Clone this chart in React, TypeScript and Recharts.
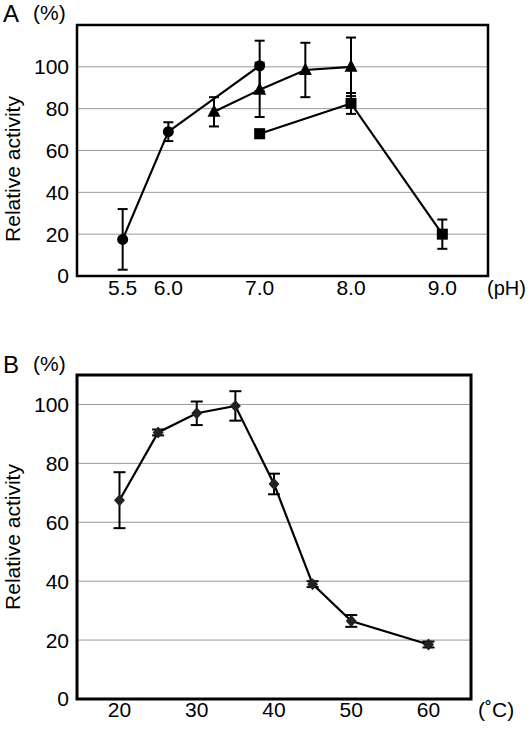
import React from "react";
import {
  ComposedChart,
  Line,
  XAxis,
  YAxis,
  CartesianGrid,
  ErrorBar,
  ReferenceArea,
} from "recharts";

const FONT = "'Liberation Sans', Arial, Helvetica, sans-serif";

// panel A: pH profile, three buffer series
const phCircleX = [5.5, 6.0, 7.0];
const phCircleY = [17.5, 69, 100.5];
const phCircleErr = [14.5, 4.5, 12];

const phTriangleX = [6.5, 7.0, 7.5, 8.0];
const phTriangleY = [78.5, 89, 98.5, 100];
const phTriangleErr = [7, 13, 13, 14];

const phSquareX = [7.0, 8.0, 9.0];
const phSquareY = [68, 82.5, 20];
const phSquareErr = [2, 5, 7];

const phTicks = [5.5, 6.0, 7.0, 8.0, 9.0];

// panel B: temperature profile
const tempX = [20, 25, 30, 35, 40, 45, 50, 60];
const tempY = [67.5, 90.5, 97, 99.5, 73, 39, 26.5, 18.5];
const tempErr = [9.5, 1, 4, 5, 3.5, 1, 2, 1];

const tempTicks = [20, 30, 40, 50, 60];
const activityTicks = [0, 20, 40, 60, 80, 100];

const toRows = (xs: number[], ys: number[], es: number[]) =>
  xs.map((x, i) => ({ x, y: ys[i], e: es[i] }));

const circleData = toRows(phCircleX, phCircleY, phCircleErr);
const triangleData = toRows(phTriangleX, phTriangleY, phTriangleErr);
const squareData = toRows(phSquareX, phSquareY, phSquareErr);
const tempData = toRows(tempX, tempY, tempErr);

const circleDot = (p: any) => (
  <circle key={`c-${p.index}`} cx={p.cx} cy={p.cy} r={5.5} fill="#000" />
);
const triangleDot = (p: any) => (
  <path
    key={`t-${p.index}`}
    d={`M${p.cx},${p.cy - 7.5} L${p.cx + 6.5},${p.cy + 5} L${p.cx - 6.5},${p.cy + 5} Z`}
    fill="#000"
  />
);
const squareDot = (p: any) => (
  <rect key={`s-${p.index}`} x={p.cx - 5.5} y={p.cy - 5.5} width={11} height={11} fill="#000" />
);
const diamondDot = (p: any) => (
  <path
    key={`d-${p.index}`}
    d={`M${p.cx},${p.cy - 6} L${p.cx + 5.5},${p.cy} L${p.cx},${p.cy + 6} L${p.cx - 5.5},${p.cy} Z`}
    fill="#222"
  />
);

const tickStyle = { fill: "#000", fontSize: 21, fontFamily: FONT };

export default function App() {
  return (
    <div
      style={{
        position: "absolute",
        left: 0,
        top: 0,
        width: 531,
        height: 730,
        background: "#fff",
        fontFamily: FONT,
      }}
    >
      <div style={{ position: "absolute", left: 0, top: 0 }}>
        <ComposedChart width={531} height={300} margin={{ top: 25, right: 43, bottom: 0, left: 0 }}>
          <CartesianGrid horizontal vertical={false} stroke="#999" strokeWidth={1} />
          <XAxis
            type="number"
            dataKey="x"
            domain={[5, 9.5]}
            ticks={phTicks}
            tickFormatter={(v: number) => v.toFixed(1)}
            axisLine={false}
            tickLine={false}
            tickSize={0}
            tickMargin={4}
            height={24}
            tick={tickStyle}
          />
          <YAxis
            type="number"
            domain={[0, 120]}
            ticks={activityTicks}
            axisLine={false}
            tickLine={false}
            tickSize={0}
            tickMargin={8}
            width={77}
            tick={tickStyle}
          />
          <ReferenceArea x1={5} x2={9.5} y1={0} y2={120} fill="none" stroke="#000" strokeWidth={2.5} />
          <Line data={circleData} dataKey="y" stroke="#000" strokeWidth={2.2} dot={circleDot} activeDot={false} isAnimationActive={false}>
            <ErrorBar dataKey="e" direction="y" width={5} stroke="#000" strokeWidth={2} />
          </Line>
          <Line data={triangleData} dataKey="y" stroke="#000" strokeWidth={2.2} dot={triangleDot} activeDot={false} isAnimationActive={false}>
            <ErrorBar dataKey="e" direction="y" width={5} stroke="#000" strokeWidth={2} />
          </Line>
          <Line data={squareData} dataKey="y" stroke="#000" strokeWidth={2.2} dot={squareDot} activeDot={false} isAnimationActive={false}>
            <ErrorBar dataKey="e" direction="y" width={5} stroke="#000" strokeWidth={2} />
          </Line>
        </ComposedChart>
      </div>

      <div style={{ position: "absolute", left: 0, top: 340 }}>
        <ComposedChart width={531} height={390} margin={{ top: 35, right: 60, bottom: 0, left: 0 }}>
          <CartesianGrid horizontal vertical={false} stroke="#999" strokeWidth={1} />
          <XAxis
            type="number"
            dataKey="x"
            domain={[14.5, 65.5]}
            ticks={tempTicks}
            axisLine={false}
            tickLine={false}
            tickSize={0}
            tickMargin={3}
            height={31}
            tick={tickStyle}
          />
          <YAxis
            type="number"
            domain={[0, 110]}
            ticks={activityTicks}
            axisLine={false}
            tickLine={false}
            tickSize={0}
            tickMargin={8}
            width={77}
            tick={tickStyle}
          />
          <ReferenceArea x1={14.5} x2={65.5} y1={0} y2={110} fill="none" stroke="#000" strokeWidth={3} />
          <Line data={tempData} dataKey="y" stroke="#000" strokeWidth={2.2} dot={diamondDot} activeDot={false} isAnimationActive={false}>
            <ErrorBar dataKey="e" direction="y" width={6} stroke="#000" strokeWidth={2} />
          </Line>
        </ComposedChart>
      </div>

      <svg
        width={531}
        height={730}
        style={{ position: "absolute", left: 0, top: 0, pointerEvents: "none" }}
        fontFamily={FONT}
      >
        <text x={3} y={22} fontSize={24} fill="#000">A</text>
        <text x={33} y={20} fontSize={21} fill="#000">(%)</text>
        <text x={487} y={295} fontSize={20} fill="#000">(pH)</text>
        <text transform="translate(20,169) rotate(-90)" textAnchor="middle" fontSize={21} fill="#000">
          Relative activity
        </text>

        <text x={3} y={373} fontSize={24} fill="#000">B</text>
        <text x={33} y={371} fontSize={21} fill="#000">(%)</text>
        <text x={478} y={717} fontSize={21} fill="#000">(˚C)</text>
        <text transform="translate(20,537) rotate(-90)" textAnchor="middle" fontSize={21} fill="#000">
          Relative activity
        </text>
      </svg>
    </div>
  );
}
